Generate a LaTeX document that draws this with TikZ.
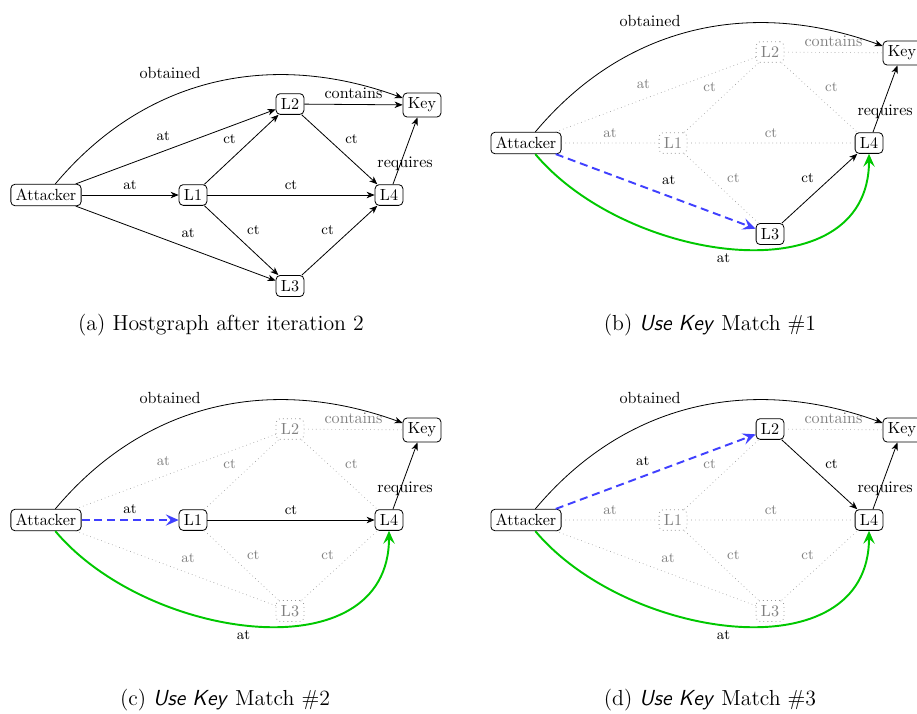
\documentclass[tikz,border=0pt]{standalone}
\usetikzlibrary{arrows.meta}
\definecolor{matchblue}{RGB}{64,64,255}
\definecolor{matchgreen}{RGB}{0,200,0}
\tikzset{
	loc/.style={draw,rounded corners=2.5pt,line width=0.5pt,inner sep=3pt},
	offloc/.style={loc,draw=gray!80,dotted,text=gray},
	rel/.style={line width=0.5pt,-{Stealth[length=5pt,width=4pt,inset=1.5pt]}},
	offrel/.style={gray!80,dotted},
	lbl/.style={auto,font=\small,text=black},
	offlbl/.style={lbl,text=gray},
	newrel/.style={matchblue,line width=1.2pt,dash pattern=on 5pt off 3pt,-{Stealth[length=8pt,width=7pt,inset=3pt]}},
	gainrel/.style={matchgreen,line width=1.2pt,-{Stealth[length=8pt,width=7pt,inset=3pt]}},
	subcap/.style={font=\fontsize{13.5}{16}\selectfont}
}
\begin{document}
\begin{tikzpicture}[x=0.62pt,y=0.62pt]
	\def\hostnodes(#1,#2,#3,#4){%
		\node[loc](#1att)at(46,-195){Attacker};
		\node[#2](#1l1)at(193,-195){L1};
		\node[#3](#1l2)at(290,-104){L2};
		\node[#4](#1l3)at(290,-286){L3};
		\node[loc](#1l4)at(389,-195){L4};
		\node[loc](#1key)at(422,-105){Key};
		\draw[rel](#1att)to[out=50,in=160]node[pos=0.48,auto]{obtained}(#1key);
		\draw[rel](#1l4)--node[pos=0.3,xshift=3pt]{requires}(#1key);
	}
	\useasboundingbox(0,0)rectangle(917,-713);

	% hostgraph
	\begin{scope}
		\hostnodes(a,loc,loc,loc)
		\begin{scope}[rel]
			\draw(aatt)--node[lbl]{at}(al1);
			\draw(aatt)--node[lbl]{at}(al2);
			\draw(aatt)--node[lbl]{at}(al3);
			\draw(al1)--node[lbl]{ct}(al2);
			\draw(al1)--node[lbl]{ct}(al3);
			\draw(al1)--node[lbl]{ct}(al4);
			\draw(al2)--node[lbl]{ct}(al4);
			\draw(al3)--node[lbl]{ct}(al4);
			\draw(al2)--node[auto]{contains}(akey);
		\end{scope}
		\node[subcap](capa)at(221,-325){(a) Hostgraph after iteration 2};
	\end{scope}

	% match 1
	\begin{scope}[shift={(480,52)}]
		\hostnodes(b,offloc,offloc,loc)
		\draw[offrel]
			(batt)--node[offlbl]{at}(bl1)
			(batt)--node[offlbl]{at}(bl2)
			(bl1)--node[offlbl]{ct}(bl2)
			(bl1)--node[offlbl]{ct}(bl3)
			(bl1)--node[offlbl]{ct}(bl4)
			(bl2)--node[offlbl]{ct}(bl4)
			(bl2)--node[auto,text=gray]{contains}(bkey);
		\draw[rel](bl3)--node[lbl]{ct}(bl4);
		\draw[newrel](batt)--node[lbl]{at}(bl3);
		\draw[gainrel](batt)to[out=-50,in=-90,looseness=1.1]node[pos=0.47,below,font=\small,text=black]{at}(bl4);
		\node[subcap](capb)at(230,-377){(b) \textsf{\itshape Use Key} Match \#1};
	\end{scope}

	% match 2
	\begin{scope}[shift={(0,-325)}]
		\hostnodes(c,loc,offloc,offloc)
		\draw[offrel]
			(catt)--node[offlbl]{at}(cl2)
			(catt)--node[offlbl]{at}(cl3)
			(cl1)--node[offlbl]{ct}(cl2)
			(cl1)--node[offlbl]{ct}(cl3)
			(cl2)--node[offlbl]{ct}(cl4)
			(cl3)--node[offlbl]{ct}(cl4)
			(cl2)--node[auto,text=gray]{contains}(ckey);
		\draw[rel](cl1)--node[lbl]{ct}(cl4);
		\draw[newrel](catt)--node[lbl]{at}(cl1);
		\draw[gainrel](catt)to[out=-50,in=-90,looseness=1.1]node[pos=0.47,below,font=\small,text=black]{at}(cl4);
		\node[subcap](capc)at(225,-375){(c) \textsf{\itshape Use Key} Match \#2};
	\end{scope}

	% match 3
	\begin{scope}[shift={(480,-325)}]
		\hostnodes(d,offloc,loc,offloc)
		\draw[offrel]
			(datt)--node[offlbl]{at}(dl1)
			(datt)--node[offlbl]{at}(dl3)
			(dl1)--node[offlbl]{ct}(dl2)
			(dl1)--node[offlbl]{ct}(dl3)
			(dl1)--node[offlbl]{ct}(dl4)
			(dl3)--node[offlbl]{ct}(dl4)
			(dl2)--node[auto,text=gray]{contains}(dkey);
		\draw[rel](dl2)--node[lbl]{ct}(dl4);
		\draw[newrel](datt)--node[lbl]{at}(dl2);
		\draw[gainrel](datt)to[out=-50,in=-90,looseness=1.1]node[pos=0.47,below,font=\small,text=black]{at}(dl4);
		\node[subcap](capd)at(230,-375){(d) \textsf{\itshape Use Key} Match \#3};
	\end{scope}
\end{tikzpicture}
\end{document}
